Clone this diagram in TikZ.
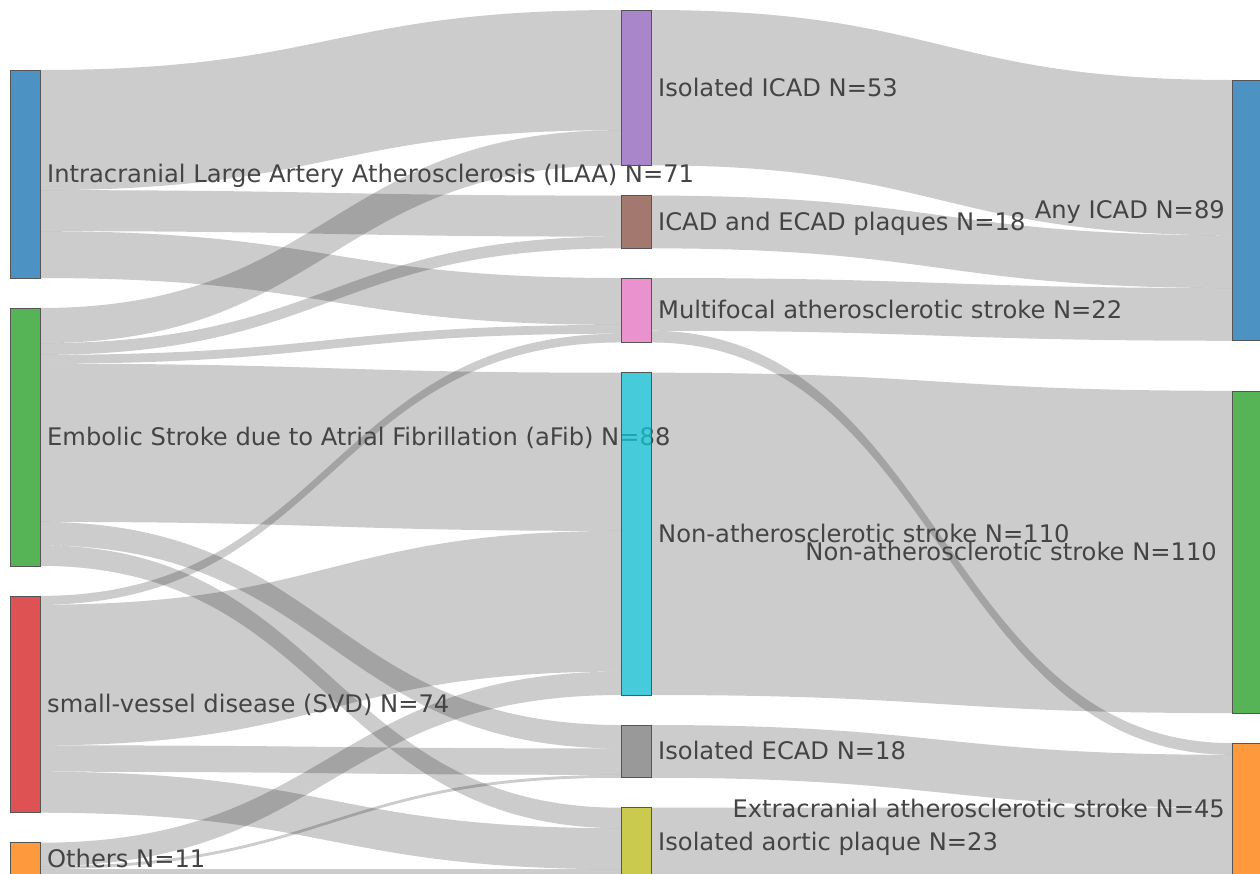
\documentclass[tikz,border=0pt]{standalone}
\usepackage{fontspec}
\setmainfont{DejaVu Sans}
\usetikzlibrary{calc}
\definecolor{cblue}{HTML}{1F77B4}
\definecolor{corange}{HTML}{FF7F0E}
\definecolor{cgreen}{HTML}{2CA02C}
\definecolor{cred}{HTML}{D62728}
\definecolor{cpurple}{HTML}{9467BD}
\definecolor{cbrown}{HTML}{8C564B}
\definecolor{cpink}{HTML}{E377C2}
\definecolor{cgray}{HTML}{7F7F7F}
\definecolor{colive}{HTML}{BCBD22}
\definecolor{ccyan}{HTML}{17BECF}
\definecolor{lblcol}{HTML}{444444}
\definecolor{edgecol}{HTML}{555555}
\pgfdeclarelayer{bg}
\pgfsetlayers{bg,main}
\def\k{2.93}
\tikzset{
  link/.style={fill=black, fill opacity=0.2},
  sbar/.style={draw=edgecol, line width=0.6pt, fill opacity=0.8, minimum width=30pt,
    inner sep=0pt, outer sep=0pt, anchor=north west},
  lbl/.style={text=lblcol, font=\fontsize{24.2}{28}\selectfont, inner sep=0pt},
  lblr/.style={lbl, anchor=base west},
  lbll/.style={lbl, anchor=base east},
}
% #1 source, #2 source offset, #3 target, #4 target offset, #5 value
\newcommand\flow[5]{%
  \fill[link] let \p1=($(#1.north east)+(0,#2*\k)$),
                  \p2=($(#1.north east)+(0,#2*\k+#5*\k)$),
                  \p3=($(#3.north west)+(0,#4*\k)$),
                  \p4=($(#3.north west)+(0,#4*\k+#5*\k)$),
                  \p5=($(\p1)!0.5!(\p3)$) in
    (\p1) .. controls (\x5,\y1) and (\x5,\y3) .. (\p3) -- (\p4)
          .. controls (\x5,\y4) and (\x5,\y2) .. (\p2) -- cycle;}
\begin{document}
\begin{tikzpicture}[x=1pt,y=-1pt]
\useasboundingbox (0,0) rectangle (1260,873);
% left column
\node[sbar, fill=cblue,   minimum height=71*\k] (ilaa)   at (10,70) {};
\node[lblr] (l-ilaa) at ($(ilaa.east)+(7,8.6)$) {Intracranial Large Artery Atherosclerosis (ILAA) N=71};
\node[sbar, fill=cgreen,  minimum height=88*\k] (afib)   at (10,308) {};
\node[lblr] (l-afib) at ($(afib.east)+(7,8.6)$) {Embolic Stroke due to Atrial Fibrillation (aFib) N=88};
\node[sbar, fill=cred,    minimum height=74*\k] (svd)    at (10,595.9) {};
\node[lblr] (l-svd) at ($(svd.east)+(7,8.6)$) {small-vessel disease (SVD) N=74};
\node[sbar, fill=corange, minimum height=11*\k] (others) at (10,842.7) {};
\node[lblr] (l-others) at ($(others.east)+(7,8.6)$) {Others N=11};
% middle column
\node[sbar, fill=cpurple, minimum height=53*\k] (icad)  at (621,10) {};
\node[lblr] (l-icad) at ($(icad.east)+(7,8.6)$) {Isolated ICAD N=53};
\node[sbar, fill=cbrown,  minimum height=18*\k] (ie)    at (621,195.6) {};
\node[lblr] (l-ie) at ($(ie.east)+(7,8.6)$) {ICAD and ECAD plaques N=18};
\node[sbar, fill=cpink,   minimum height=22*\k] (mf)    at (621,278) {};
\node[lblr] (l-mf) at ($(mf.east)+(7,8.6)$) {Multifocal atherosclerotic stroke N=22};
\node[sbar, fill=ccyan,   minimum height=110*\k] (na)   at (621,372.7) {};
\node[lblr] (l-na) at ($(na.east)+(7,8.6)$) {Non-atherosclerotic stroke N=110};
\node[sbar, fill=cgray,   minimum height=18*\k] (ecad)  at (621,725) {};
\node[lblr] (l-ecad) at ($(ecad.east)+(7,8.6)$) {Isolated ECAD N=18};
\node[sbar, fill=colive,  minimum height=23*\k] (ao)    at (621,807.7) {};
\node[lblr] (l-ao) at ($(ao.east)+(7,8.6)$) {Isolated aortic plaque N=23};
% right column
\node[sbar, fill=cblue,   minimum height=89*\k] (any)   at (1232,80) {};
\node[lbll] (l-any) at ($(any.west)+(-7,8.6)$) {Any ICAD N=89};
\node[sbar, fill=cgreen,  minimum height=110*\k] (na2)  at (1232,390.8) {};
\node[lbll] (l-na2) at ($(na2.west)+(-15,8.6)$) {Non-atherosclerotic stroke N=110};
\node[sbar, fill=corange, minimum height=45*\k] (ext)   at (1232,743.1) {};
\node[lbll] (l-ext) at ($(ext.west)+(-7,8.6)$) {Extracranial atherosclerotic stroke N=45};
% links
\begin{pgfonlayer}{bg}
\flow{ilaa}{0}{icad}{0}{41}
\flow{ilaa}{41}{ie}{0}{14}
\flow{ilaa}{55}{mf}{0}{16}
\flow{afib}{0}{icad}{41}{12}
\flow{afib}{12}{ie}{14}{4}
\flow{afib}{16}{mf}{16}{3}
\flow{afib}{19}{na}{0}{54}
\flow{afib}{73}{ecad}{0}{8}
\flow{afib}{81}{ao}{0}{7}
\flow{svd}{0}{mf}{19}{3}
\flow{svd}{3}{na}{54}{48}
\flow{svd}{51}{ecad}{8}{9}
\flow{svd}{60}{ao}{7}{14}
\flow{others}{0}{na}{102}{8}
\flow{others}{8}{ecad}{17}{1}
\flow{others}{9}{ao}{21}{2}
\flow{icad}{0}{any}{0}{53}
\flow{ie}{0}{any}{53}{18}
\flow{mf}{0}{any}{71}{18}
\flow{mf}{18}{ext}{0}{4}
\flow{na}{0}{na2}{0}{110}
\flow{ecad}{0}{ext}{4}{18}
\flow{ao}{0}{ext}{22}{23}
\end{pgfonlayer}
\end{tikzpicture}
\end{document}
